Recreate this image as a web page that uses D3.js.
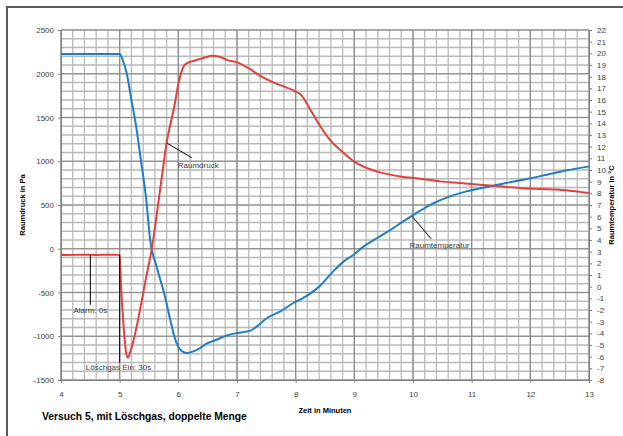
<!DOCTYPE html>
<html>
<head>
<meta charset="utf-8">
<script src="https://cdn.jsdelivr.net/npm/d3@7"></script>
<style>
  body { margin: 0; background: #fff; }
  svg { display: block; font-family: "Liberation Sans", Arial, sans-serif; }
</style>
</head>
<body>
<script>
// Zeit in Minuten / Raumdruck in Pa (rote Kurve)
const pressTime = [4.0, 4.2, 4.4, 4.6, 4.8, 5.0, 5.02, 5.05, 5.08, 5.11, 5.14, 5.18, 5.22, 5.29, 5.37, 5.46, 5.54, 5.62, 5.71, 5.80, 5.92, 6.03, 6.11, 6.23, 6.37, 6.50, 6.57, 6.71, 6.85, 7.00, 7.19, 7.39, 7.62, 7.82, 7.96, 8.10, 8.25, 8.42, 8.58, 8.82, 8.99, 9.21, 9.44, 9.78, 10.12, 10.46, 10.80, 11.14, 11.48, 11.82, 12.16, 12.50, 12.84, 13.0];
const pressure = [-72, -70, -68, -70, -69, -70, -380, -720, -1000, -1190, -1245, -1180, -1090, -887, -617, -297, -30, 330, 780, 1209, 1589, 1970, 2103, 2141, 2169, 2195, 2206, 2191, 2153, 2130, 2066, 1978, 1901, 1849, 1810, 1753, 1589, 1400, 1246, 1094, 998, 923, 873, 827, 801, 770, 751, 732, 713, 694, 683, 675, 650, 637];

// Zeit in Minuten / Raumtemperatur in °C (blaue Kurve)
const tempTime = [4.0, 4.5, 5.0, 5.05, 5.12, 5.19, 5.28, 5.36, 5.45, 5.52, 5.63, 5.77, 5.86, 5.94, 6.03, 6.14, 6.25, 6.37, 6.48, 6.65, 6.82, 7.0, 7.23, 7.34, 7.51, 7.74, 7.96, 8.13, 8.30, 8.42, 8.64, 8.82, 8.99, 9.16, 9.39, 9.62, 9.86, 10.12, 10.34, 10.63, 10.91, 11.25, 11.59, 11.94, 12.28, 12.62, 13.0];
const temperature = [19.95, 19.95, 19.94, 19.45, 18.3, 16.3, 13.74, 10.9, 7.6, 4.0, 1.7, -0.8, -2.8, -4.4, -5.4, -5.69, -5.55, -5.26, -4.89, -4.55, -4.2, -3.97, -3.77, -3.4, -2.69, -2.12, -1.4, -0.97, -0.4, 0.1, 1.31, 2.17, 2.74, 3.45, 4.17, 4.88, 5.68, 6.5, 7.13, 7.74, 8.17, 8.54, 8.89, 9.23, 9.6, 9.97, 10.31];

const xTicks = [4, 5, 6, 7, 8, 9, 10, 11, 12, 13];
const pressTicks = [-1500, -1000, -500, 0, 500, 1000, 1500, 2000, 2500];
const tempTicks = [-8, -7, -6, -5, -4, -3, -2, -1, 0, 1, 2, 3, 4, 5, 6, 7, 8, 9, 10, 11, 12, 13, 14, 15, 16, 17, 18, 19, 20, 21, 22];

const width = 623, height = 436;
const margin = { top: 30, right: 34, bottom: 56, left: 61 };

const x = d3.scaleLinear().domain([4, 13]).range([margin.left, width - margin.right]);
const yL = d3.scaleLinear().domain([-1500, 2500]).range([height - margin.bottom, margin.top]);
const yR = d3.scaleLinear().domain([-8, 22]).range([height - margin.bottom, margin.top]);

const svg = d3.select("body").append("svg")
  .attr("width", width)
  .attr("height", height);

// outer frame
svg.append("rect")
  .attr("x", 7).attr("y", 7)
  .attr("width", width + 20).attr("height", height + 20)
  .attr("fill", "#fff")
  .attr("stroke", "#595959")
  .attr("stroke-width", 2);

// grid
const grid = svg.append("g");
const minorX = d3.range(4, 13.001, 0.2);
const minorY = d3.range(-1500, 2501, 100);
grid.selectAll(".vmin").data(minorX).join("line")
  .attr("x1", d => x(d)).attr("x2", d => x(d))
  .attr("y1", yL(2500)).attr("y2", yL(-1500))
  .attr("stroke", "#b9b9b9").attr("stroke-width", 1.3);
grid.selectAll(".hmin").data(minorY).join("line")
  .attr("y1", d => yL(d)).attr("y2", d => yL(d))
  .attr("x1", x(4)).attr("x2", x(13))
  .attr("stroke", "#b9b9b9").attr("stroke-width", 1.3);
grid.selectAll(".vmaj").data(xTicks).join("line")
  .attr("x1", d => x(d)).attr("x2", d => x(d))
  .attr("y1", yL(2500)).attr("y2", yL(-1500))
  .attr("stroke", "#8a8a8a").attr("stroke-width", 1.2);
grid.selectAll(".hmaj").data(pressTicks).join("line")
  .attr("y1", d => yL(d)).attr("y2", d => yL(d))
  .attr("x1", x(4)).attr("x2", x(13))
  .attr("stroke", "#8a8a8a").attr("stroke-width", 1.2);

// axes
const styleAxis = g => {
  g.select(".domain").attr("stroke", "#7f7f7f");
  g.selectAll(".tick line").attr("stroke", "#7f7f7f");
  g.selectAll(".tick text").attr("fill", "#404040").attr("font-size", 8)
    .attr("font-family", "'Liberation Sans', Arial, sans-serif");
};
const plain = d => String(d);

svg.append("g")
  .attr("transform", `translate(${margin.left},0)`)
  .call(d3.axisLeft(yL).tickValues(pressTicks).tickFormat(plain).tickSize(3).tickPadding(4).tickSizeOuter(0))
  .call(styleAxis);

svg.append("g")
  .attr("transform", `translate(${width - margin.right},0)`)
  .call(d3.axisRight(yR).tickValues(tempTicks).tickFormat(plain).tickSize(3).tickPadding(5).tickSizeOuter(0))
  .call(styleAxis);

svg.append("g")
  .attr("transform", `translate(0,${height - margin.bottom})`)
  .call(d3.axisBottom(x).tickValues(xTicks).tickFormat(plain).tickSize(3).tickPadding(8).tickSizeOuter(0))
  .call(styleAxis);

// lines
const pressLine = d3.line()
  .x((d, i) => x(pressTime[i]))
  .y(d => yL(d))
  .curve(d3.curveMonotoneX);
const tempLine = d3.line()
  .x((d, i) => x(tempTime[i]))
  .y(d => yR(d))
  .curve(d3.curveMonotoneX);

svg.append("path")
  .attr("d", tempLine(temperature))
  .attr("fill", "none")
  .attr("stroke", "#1f7ec6")
  .attr("stroke-width", 2);

svg.append("path")
  .attr("d", pressLine(pressure))
  .attr("fill", "none")
  .attr("stroke", "#e3403c")
  .attr("stroke-width", 2);

// annotations
const ann = svg.append("g").attr("font-size", 8).attr("fill", "#404040");
const leader = (x1, y1, x2, y2) => ann.append("line")
  .attr("x1", x1).attr("y1", y1).attr("x2", x2).attr("y2", y2)
  .attr("stroke", "#000").attr("stroke-width", 1);

leader(x(5.8), yL(1209), x(6.23), yL(1040));
ann.append("text").attr("x", x(5.99)).attr("y", yL(925)).text("Raumdruck");

leader(x(9.99), yR(6.0), x(10.31), yR(4.1));
ann.append("text").attr("x", x(9.94)).attr("y", yR(3.3)).text("Raumtemperatur");

leader(x(4.5), yL(-70), x(4.5), yL(-640));
ann.append("text").attr("x", x(4.5)).attr("y", yL(-735)).attr("text-anchor", "middle").text("Alarm: 0s");

leader(x(5.0), yL(-70), x(5.0), yL(-1300));
ann.append("text").attr("x", x(4.98)).attr("y", yL(-1390)).attr("text-anchor", "middle").text("Löschgas Ein: 30s");

// axis titles
svg.append("text")
  .attr("x", (x(4) + x(13)) / 2).attr("y", 413)
  .attr("text-anchor", "middle")
  .attr("font-size", 7.5).attr("font-weight", "bold").attr("fill", "#000")
  .text("Zeit in Minuten");

svg.append("text")
  .attr("transform", `translate(25,${(yL(2500) + yL(-1500)) / 2}) rotate(-90)`)
  .attr("text-anchor", "middle")
  .attr("font-size", 7.5).attr("font-weight", "bold").attr("fill", "#000")
  .text("Raumdruck in Pa");

svg.append("text")
  .attr("transform", `translate(614,${(yL(2500) + yL(-1500)) / 2}) rotate(-90)`)
  .attr("text-anchor", "middle")
  .attr("font-size", 7.5).attr("font-weight", "bold").attr("fill", "#000")
  .text("Raumtemperatur in °C");

svg.append("text")
  .attr("x", 42).attr("y", 420)
  .attr("font-size", 10.3).attr("font-weight", "bold").attr("fill", "#000")
  .text("Versuch 5, mit Löschgas, doppelte Menge");
</script>
</body>
</html>
